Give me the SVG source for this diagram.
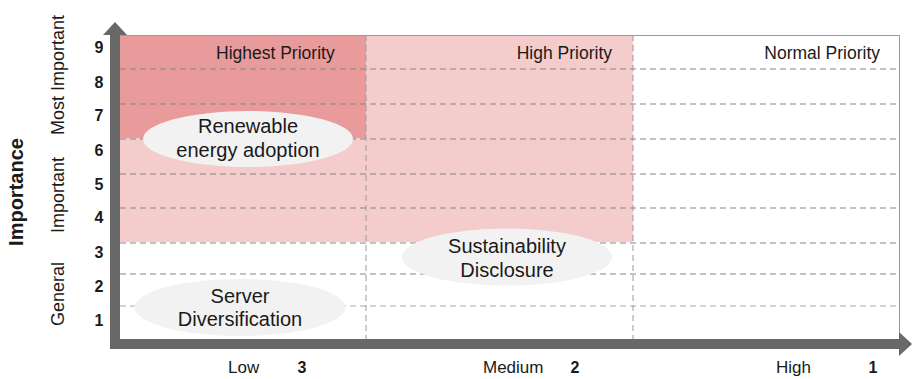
<svg xmlns="http://www.w3.org/2000/svg" width="914" height="379" viewBox="0 0 914 379">
  <style>
    text { font-family: "Liberation Sans", Arial, sans-serif; fill: #1a1a1a; }
    .grid { stroke: #858585; stroke-width: 1; stroke-dasharray: 6,4; fill: none; }
    .gridl { stroke: #a8a8a8; stroke-width: 1; stroke-dasharray: 6,4; fill: none; }
    .vgrid { stroke: #9a9a9a; stroke-width: 1; stroke-dasharray: 6,4; fill: none; }
    .prio { font-size: 17.5px; }
    .bubble { fill: #f2f2f2; stroke: none; }
    .btext { font-size: 20px; text-anchor: middle; }
    .num { font-size: 16px; font-weight: bold; text-anchor: middle; }
    .side { font-size: 18px; text-anchor: middle; }
    .xl { font-size: 17px; }
    .axis { fill: #686868; }
  </style>

  <g id="background">
    <rect x="120" y="35" width="779" height="304" fill="#ffffff"/>
    <rect x="120" y="35" width="513" height="207" fill="#f4cccc"/>
    <rect x="120" y="35" width="246" height="103" fill="#e99a9a"/>
  </g>

  <g id="grid">
    <line class="grid" x1="120" y1="69" x2="899" y2="69"/>
    <line class="grid" x1="120" y1="104" x2="899" y2="104"/>
    <line class="grid" x1="120" y1="139" x2="899" y2="139"/>
    <line class="grid" x1="120" y1="174" x2="899" y2="174"/>
    <line class="grid" x1="120" y1="208" x2="899" y2="208"/>
    <line class="grid" x1="120" y1="243" x2="899" y2="243"/>
    <line class="grid" x1="120" y1="274" x2="899" y2="274"/>
    <line class="gridl" x1="120" y1="306" x2="899" y2="306"/>
    <line class="vgrid" x1="366" y1="35" x2="366" y2="339"/>
    <line class="vgrid" x1="633" y1="35" x2="633" y2="339"/>
    <polyline points="120,35.5 899.5,35.5 899.5,339" fill="none" stroke="#999999" stroke-width="1"/>
  </g>

  <g id="priority-labels">
    <text class="prio" x="216" y="59">Highest Priority</text>
    <text class="prio" x="612" y="59" text-anchor="end">High Priority</text>
    <text class="prio" x="880" y="59" text-anchor="end">Normal Priority</text>
  </g>

  <g id="node-renewable">
    <ellipse class="bubble" cx="248" cy="139" rx="105" ry="28"/>
    <text class="btext" x="248" y="133">Renewable</text>
    <text class="btext" x="248" y="157">energy adoption</text>
  </g>

  <g id="node-sustainability">
    <ellipse class="bubble" cx="507" cy="257" rx="105" ry="28.5"/>
    <text class="btext" x="507" y="253">Sustainability</text>
    <text class="btext" x="507" y="277">Disclosure</text>
  </g>

  <g id="node-server">
    <ellipse class="bubble" cx="240" cy="307.5" rx="105.5" ry="28.5"/>
    <text class="btext" x="240" y="303">Server</text>
    <text class="btext" x="240" y="326">Diversification</text>
  </g>

  <g id="axes">
    <rect class="axis" x="110" y="35" width="10" height="314"/>
    <polygon class="axis" points="103,35 115,22 127,35"/>
    <rect class="axis" x="110" y="339" width="790" height="10"/>
    <polygon class="axis" points="899,332 912,344 899,356"/>
  </g>

  <g id="y-labels">
    <text class="num" x="99" y="53">9</text>
    <text class="num" x="99" y="88">8</text>
    <text class="num" x="99" y="121">7</text>
    <text class="num" x="99" y="156">6</text>
    <text class="num" x="99" y="190">5</text>
    <text class="num" x="99" y="223">4</text>
    <text class="num" x="99" y="258">3</text>
    <text class="num" x="99" y="292">2</text>
    <text class="num" x="99" y="326">1</text>
    <text class="side" transform="translate(64,75) rotate(-90)">Most Important</text>
    <text class="side" transform="translate(64,195) rotate(-90)">Important</text>
    <text class="side" transform="translate(64,294) rotate(-90)">General</text>
    <text transform="translate(23,192) rotate(-90)" text-anchor="middle" font-size="20" font-weight="bold">Importance</text>
  </g>

  <g id="x-labels">
    <text class="xl" x="228" y="373">Low</text>
    <text class="num" x="302" y="373">3</text>
    <text class="xl" x="483" y="373">Medium</text>
    <text class="num" x="575" y="373">2</text>
    <text class="xl" x="776" y="373">High</text>
    <text class="num" x="873" y="373">1</text>
  </g>
</svg>
